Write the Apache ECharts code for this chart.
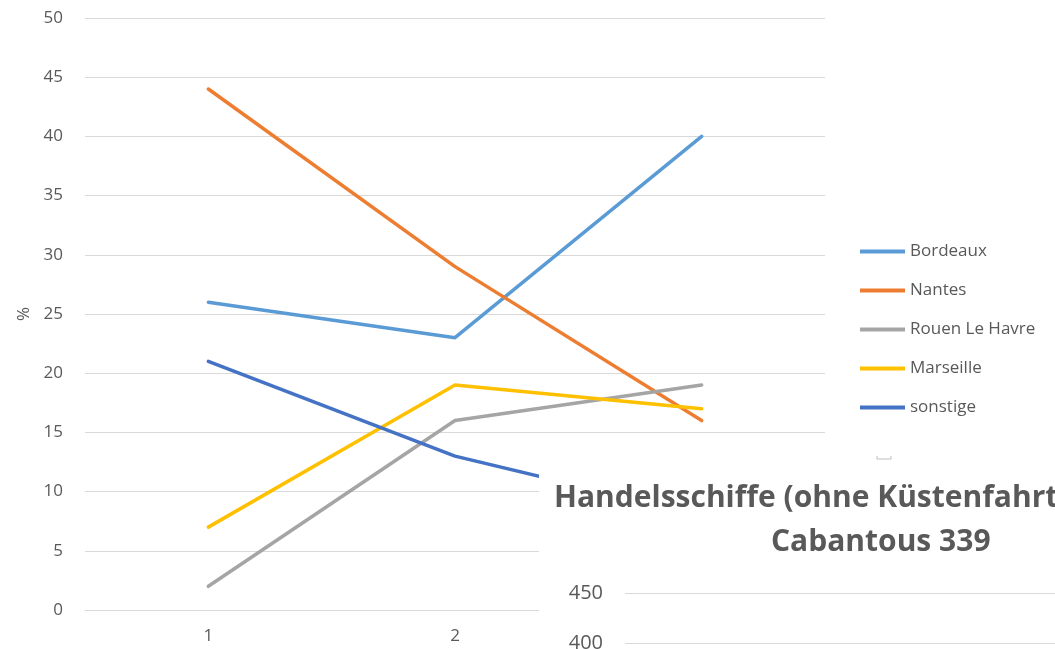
<!DOCTYPE html>
<html>
<head>
<meta charset="utf-8">
<script src="https://cdn.jsdelivr.net/npm/echarts@6/dist/echarts.min.js"></script>
<style>
  html, body { margin: 0; padding: 0; background: #fff; }
</style>
</head>
<body>
<div id="main" style="width: 1055px;height:649px;"></div>
<script>
// Kategorien (x-Achse)
const categories = ['1', '2', '3']
// Anteile in %
const bordeaux = [26, 23, 40]
const nantes = [44, 29, 16]
const rouenLeHavre = [2, 16, 19]
const marseille = [7, 19, 17]
const sonstige = [21, 13, 8]
// zweites (überlagertes) Diagramm
const titleLine1 = 'Handelsschiffe (ohne Küstenfahrt'
const titleLine2 = 'Cabantous 339'

const textColor = '#595959'
const gridColor = '#d9d9d9'
const font = '"Open Sans", "Noto Sans", sans-serif'

function lineSeries (name, data, color) {
  return {
    name: name,
    type: 'line',
    xAxisIndex: 0,
    yAxisIndex: 0,
    data: data,
    showSymbol: false,
    symbol: 'none',
    lineStyle: { color: color, width: 3.5, cap: 'round', join: 'round' },
    itemStyle: { color: color },
    z: 2
  }
}

const option = {
  animation: false,
  backgroundColor: '#fff',
  textStyle: { fontFamily: font },
  title: [
    {
      text: titleLine1,
      left: 554,
      top: 483,
      padding: 0,
      z: 10,
      textStyle: { fontSize: 30, fontWeight: 'bold', color: textColor, fontFamily: font }
    },
    {
      text: titleLine2,
      left: 771,
      top: 527,
      padding: 0,
      z: 10,
      textStyle: { fontSize: 30, fontWeight: 'bold', color: textColor, fontFamily: font }
    }
  ],
  legend: {
    orient: 'vertical',
    left: 860,
    top: 243,
    padding: 0,
    itemWidth: 45,
    itemHeight: 4,
    itemGap: 22,
    icon: 'rect',
    data: ['Bordeaux', 'Nantes', 'Rouen Le Havre', 'Marseille', 'sonstige'],
    textStyle: { color: textColor, fontSize: 17, fontFamily: font, padding: 0 }
  },
  grid: [
    { left: 85, right: 230, top: 18, bottom: 39, outerBoundsMode: 'none' },
    { left: 625, right: -20, top: 593, bottom: 6, outerBoundsMode: 'none' }
  ],
  xAxis: [
    {
      gridIndex: 0,
      type: 'category',
      data: categories,
      boundaryGap: true,
      axisLine: { lineStyle: { color: gridColor } },
      axisTick: { show: false },
      axisLabel: { color: textColor, fontSize: 17, margin: 18 }
    },
    {
      gridIndex: 1,
      type: 'category',
      data: categories,
      show: false
    }
  ],
  yAxis: [
    {
      gridIndex: 0,
      type: 'value',
      min: 0,
      max: 50,
      interval: 5,
      name: '%',
      nameLocation: 'middle',
      nameGap: 52,
      nameRotate: 90,
      nameTextStyle: { color: textColor, fontSize: 17 },
      axisLine: { show: false },
      axisTick: { show: false },
      axisLabel: { color: textColor, fontSize: 17, margin: 22 },
      splitLine: { lineStyle: { color: gridColor, width: 1 } }
    },
    {
      gridIndex: 1,
      type: 'value',
      min: 400,
      max: 450,
      interval: 50,
      z: 10,
      axisLine: { show: false },
      axisTick: { show: false },
      axisLabel: { color: textColor, fontSize: 20, margin: 22 },
      splitLine: { lineStyle: { color: gridColor, width: 1 } }
    }
  ],
  graphic: [
    {
      type: 'rect',
      z: 5,
      shape: { x: 539, y: 452, width: 520, height: 200 },
      style: { fill: '#fff' }
    },
    {
      type: 'polyline',
      z: 6,
      shape: { points: [[877, 456], [877, 459], [891, 459], [891, 456]] },
      style: { stroke: '#bfbfbf', lineWidth: 1, fill: null }
    }
  ],
  series: [
    lineSeries('Bordeaux', bordeaux, '#5B9BD5'),
    lineSeries('Nantes', nantes, '#ED7D31'),
    lineSeries('Rouen Le Havre', rouenLeHavre, '#A5A5A5'),
    lineSeries('Marseille', marseille, '#FFC000'),
    lineSeries('sonstige', sonstige, '#4472C4'),
    {
      name: 'Handelsschiffe',
      type: 'line',
      xAxisIndex: 1,
      yAxisIndex: 1,
      data: [],
      z: 10
    }
  ]
}

const myChart = echarts.init(document.getElementById('main'))
myChart.setOption(option)
</script>
</body>
</html>
